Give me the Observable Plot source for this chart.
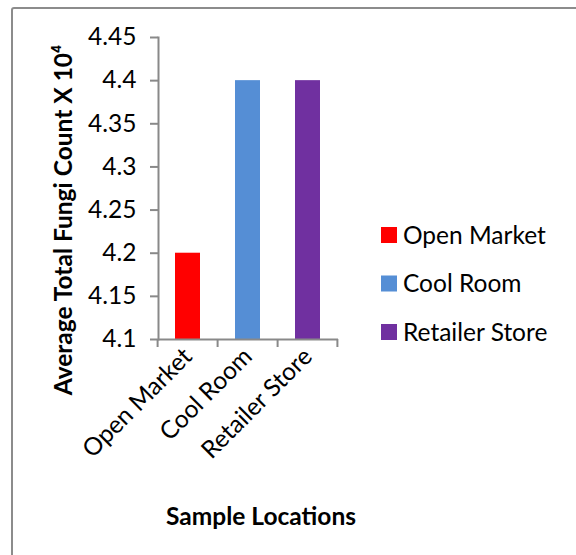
<!DOCTYPE html>
<html><head><meta charset="utf-8">
<script src="https://cdn.jsdelivr.net/npm/d3@7"></script>
<script src="https://cdn.jsdelivr.net/npm/@observablehq/plot@0.6"></script>
<style>
body{margin:0;background:#fff}
#wrap{position:relative;width:576px;height:555px;overflow:hidden;font-family:Lato,sans-serif}
#border{position:absolute;left:11px;top:7px;width:700px;height:700px;border:2px solid #8c8c8c;border-radius:3px;box-sizing:border-box}
#wrap svg{position:absolute;left:0;top:0}
</style></head><body><div id="wrap"><div id="border"></div></div>
<script>
const locations = ["Open Market", "Cool Room", "Retailer Store"];
const fungiCounts = [4.2, 4.4, 4.4];
const barColors = ["#ff0000", "#558ed5", "#7030a0"];
const yTicks = [4.1, 4.15, 4.2, 4.25, 4.3, 4.35, 4.4, 4.45];
const yTitle = "Average Total Fungi Count X 10⁴";
const xTitle = "Sample Locations";

const data = locations.map((l, i) => ({location: l, count: fungiCounts[i]}));
const baseline = yTicks[0];
const axisGray = "#898989";
const fontSize = 24.5;

const chart = Plot.plot({
  width: 576, height: 555,
  marginLeft: 158, marginRight: 238, marginTop: 37, marginBottom: 216,
  style: {fontFamily: "Lato, sans-serif", fontSize: fontSize + "px", color: "#000", background: "transparent", overflow: "visible"},
  x: {domain: locations, paddingInner: 0.58, paddingOuter: 0.29, label: null},
  y: {domain: [yTicks[0], yTicks[yTicks.length - 1]], label: null},
  color: {domain: locations, range: barColors},
  marks: [
    Plot.barY(data, {x: "location", y1: () => baseline, y2: "count", fill: "location"}),
    Plot.axisY({ticks: yTicks, tickSize: 8, tickPadding: 14, stroke: axisGray, strokeWidth: 2, fontSize, label: null, tickFormat: d => String(d)}),
    Plot.axisX({tickSize: 0, tickRotate: -45, tickPadding: 13, fontSize, label: null}),
    Plot.ruleY([baseline], {stroke: axisGray, strokeWidth: 2}),
    Plot.frame({anchor: "left", stroke: axisGray, strokeWidth: 2})
  ]
});
document.getElementById("wrap").appendChild(chart);

const svg = d3.select(chart);
const xs = chart.scale("x");
const ys = chart.scale("y");
const y0 = ys.apply(baseline);
const bounds = locations.map(l => xs.apply(l) - xs.step * xs.paddingInner / 2);
bounds.push(xs.apply(locations[locations.length - 1]) + xs.bandwidth + xs.step * xs.paddingInner / 2);
svg.append("g").selectAll("line").data(bounds).join("line")
  .attr("x1", d => d).attr("x2", d => d).attr("y1", y0).attr("y2", y0 + 8)
  .attr("stroke", axisGray).attr("stroke-width", 2);

// titles
svg.append("text").attr("transform", "translate(72,220) rotate(-90)")
  .attr("text-anchor", "middle").attr("font-weight", "bold").attr("font-size", fontSize)
  .attr("fill", "#000").text(yTitle);
svg.append("text").attr("x", 261).attr("y", 525)
  .attr("text-anchor", "middle").attr("font-weight", "bold").attr("font-size", fontSize)
  .attr("fill", "#000").text(xTitle);

// legend
const cs = chart.scale("color");
const lg = svg.append("g").attr("text-anchor", "start");
locations.forEach((l, i) => {
  const cy = 235 + i * 48.5;
  lg.append("rect").attr("x", 381).attr("y", cy - 8).attr("width", 16).attr("height", 16).attr("fill", cs.apply(l));
  lg.append("text").attr("x", 403).attr("y", cy).attr("dy", "0.35em").attr("text-anchor", "start")
    .attr("font-size", fontSize).attr("fill", "#000").text(l);
});
</script></body></html>
